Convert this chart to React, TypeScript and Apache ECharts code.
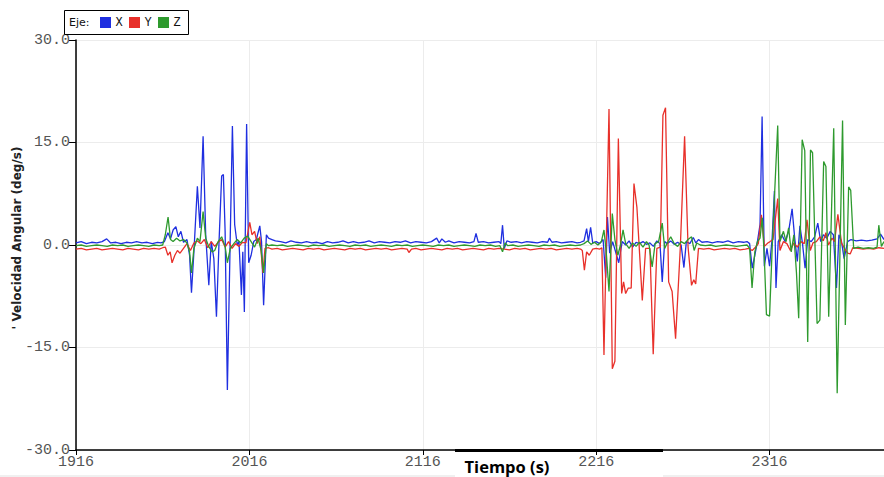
import React, { useEffect, useRef } from "react";
import * as echarts from "echarts";

const T0 = 1916;
const T_END = 2382;
const yTicks = [-30, -15, 0, 15, 30];
const seriesNames = ["X", "Y", "Z"];
const seriesColors = ["#1f2fe0", "#e8302a", "#2e9a2e"];
const legendTitle = "Eje:";
const xTitle = "Tiempo (s)";
const yTitle = "' Velocidad Angular (deg/s)";

// [time (s), angular velocity (deg/s)]
const pointsX: [number, number][] = [
  [1916, 0.3], [1919, 0.5], [1922, 0.2], [1925, 0.4], [1928, 0.3], [1931, 0.5], [1933.7, 0.9], [1936, 0.3],
  [1939, 0.4], [1942, 0.2], [1945, 0.4], [1948, 0.3], [1951, 0.5], [1954, 0.3], [1957, 0.4], [1960, 0.2],
  [1963, 0.4], [1965, 0.3],
  [1967, 0.5], [1969, 1.8], [1970.5, 0.9], [1972, 2.2], [1973.6, 2.7], [1975, 1.2], [1976.5, 2.0], [1978, 0.4],
  [1980, 0.8], [1981.5, -1.5], [1982.6, -7.0], [1984, -1.0], [1986, 8.6], [1987.5, 2.5], [1989.3, 15.9],
  [1990.8, 1.5], [1992.6, -5.9], [1994, 0.5], [1995.5, -2.0], [1997, -10.5], [1998.5, 0.5], [2000, 10.1],
  [2001, 10.3], [2002, 2.0], [2003.3, -21.2], [2004.8, -1.0], [2006.2, 17.4], [2007.5, 3.0], [2009, 0.0],
  [2010, 0.5], [2011.4, -7.3], [2012.2, -1.0], [2013.1, -9.8], [2014.4, 17.7], [2015.6, -2.6], [2017, -1.5],
  [2018.5, 0.5], [2020, 0.8], [2022, 2.8], [2023, 0.5], [2024.2, -8.8], [2025.8, 1.5], [2027, 1.0], [2029, 0.8],
  [2031, 0.6],
  [2034, 0.5], [2037, 0.3], [2040, 0.6], [2043, 0.4], [2046, 0.3], [2049, 0.5], [2052, 0.3], [2055, 0.4],
  [2058, 0.2], [2061, 0.5], [2064, 0.3], [2067, 0.4], [2070, 0.6], [2073, 0.3], [2076, 0.5], [2079, 0.3],
  [2082, 0.4], [2085, 0.6], [2088, 0.3], [2091, 0.5], [2094, 0.4], [2097, 0.3], [2100, 0.5], [2103, 0.4],
  [2106, 0.6], [2109, 0.3], [2112, 0.5], [2115, 0.4], [2118, 0.3], [2121, 0.5], [2124, 1.0], [2125.5, 0.3],
  [2127, 0.9], [2129, 0.4], [2131, 0.6], [2134, 0.3], [2137, 0.5], [2140, 0.4], [2143, 0.3], [2145.5, 0.5],
  [2146.7, 1.7], [2148, 0.4], [2151, 0.5], [2154, 0.3], [2157, 0.4], [2160, 0.5], [2161, 0.2], [2162, 2.9],
  [2163, -0.5], [2164.5, 0.6], [2167, 0.4], [2170, 0.5], [2173, 0.3], [2176, 0.5], [2179, 0.4], [2182, 0.3],
  [2185, 0.5], [2188, 0.4], [2189, 1.0], [2190.5, 0.4], [2193, 0.5], [2196, 0.3], [2199, 0.4], [2202, 0.5],
  [2205, 0.3], [2207, 0.4],
  [2209, 0.6], [2210.5, 2.4], [2211.5, 0.5], [2212.8, 2.6], [2214, 0.3], [2216, 0.5], [2218, 0.2], [2220, 0.8],
  [2221.5, -4.8], [2222.5, 4.1], [2223.8, -1.2], [2225.5, 0.5], [2227, -0.8], [2229, -2.6], [2231, 0.5],
  [2233, 0.0], [2235, 0.6], [2237, -0.3], [2239, 0.4], [2241, 0.2], [2243, 0.5], [2245, 0.1], [2247, 0.3],
  [2249, -0.2], [2251, 0.6], [2252.8, 0.2], [2254.1, -5.4], [2255.5, 0.5], [2257, 0.2], [2259, 0.6],
  [2261, 0.1], [2263, 0.4], [2265, 0.0], [2266.6, -3.3], [2268, 0.5], [2270, 0.2], [2272, 1.1], [2273.5, 0.3],
  [2275, 0.8], [2277, 0.4],
  [2280, 0.5], [2283, 0.3], [2286, 0.5], [2289, 0.4], [2292, 0.6], [2295, 0.3], [2298, 0.5], [2301, 0.4],
  [2303, 0.5],
  [2304.5, 0.2], [2306, -3.4], [2307.5, -1.5], [2309, 0.5], [2310.5, 3.0], [2311.7, 18.8], [2313, -3.1],
  [2314.5, -0.5], [2316, -3.1], [2317.5, 1.0], [2318.8, 7.9], [2319.7, -6.3], [2321, 0.5], [2323, 1.5],
  [2325, 0.5], [2327, 2.0], [2329, 5.3], [2330.5, 1.0], [2332, -2.4], [2333.5, 2.8], [2335, 0.2],
  [2336.5, -3.4], [2338, 0.8], [2340, 0.5], [2342, 1.2], [2343.8, 3.2], [2345.5, 0.5], [2347, 1.5],
  [2349, 1.0], [2351, 2.0], [2352.8, 1.5], [2354.6, -6.3], [2356, 1.5], [2357.5, 0.5], [2359, -2.0],
  [2361, 0.5], [2363, 0.8], [2366, 0.6], [2369, 0.7], [2372, 0.6], [2375, 0.7], [2378, 0.9], [2380, 1.6],
  [2382, 0.8],
];

const pointsY: [number, number][] = [
  [1916, -0.6], [1919, -0.5], [1922, -0.7], [1925, -0.6], [1928, -0.5], [1931, -0.7], [1934, -0.6], [1937, -0.5],
  [1940, -0.6], [1943, -0.7], [1946, -0.5], [1949, -0.6], [1952, -0.7], [1955, -0.5], [1958, -0.6], [1961, -0.5],
  [1964, -0.6], [1966, -0.4],
  [1967.5, -0.3], [1969, -1.5], [1970.3, -1.0], [1971.4, -2.6], [1973, -1.5], [1974.5, -0.8], [1976, -1.2],
  [1978, -0.5], [1980, 0.2], [1982, -0.8], [1984, 0.3], [1986, 0.6], [1988, 0.2], [1990, 0.8], [1992, -0.4],
  [1994, 0.5], [1996, -0.2], [1998, 0.4], [2000, 0.8], [2002, -0.3], [2004, 0.5], [2006, -0.5], [2008, 0.2],
  [2010, -0.2], [2012, 0.4], [2014, 0.3], [2016.2, 3.3], [2017.5, 1.5], [2019, 2.0], [2020.5, 0.2],
  [2022, 1.2], [2023.8, -4.1], [2025, -0.5], [2027, -0.4], [2029, -0.6],
  [2032, -0.5], [2035, -0.7], [2038, -0.6], [2041, -0.5], [2044, -0.6], [2047, -0.7], [2050, -0.5], [2053, -0.6],
  [2056, -0.5], [2059, -0.7], [2062, -0.6], [2065, -0.5], [2068, -0.6], [2071, -0.7], [2074, -0.5], [2077, -0.6],
  [2080, -0.5], [2083, -0.7], [2086, -0.6], [2089, -0.5], [2092, -0.6], [2095, -0.5], [2098, -0.7], [2101, -0.6],
  [2104, -0.5], [2107, -0.6], [2108, -1.1], [2109.5, -0.6], [2112, -0.5], [2115, -0.7], [2118, -0.6],
  [2121, -0.5], [2124, -0.6], [2127, -0.7], [2130, -0.5], [2133, -0.6], [2136, -0.5], [2139, -0.7],
  [2142, -0.6], [2145, -0.5], [2148, -0.6], [2151, -0.7], [2154, -0.5], [2157, -0.6], [2160, -0.5],
  [2163, -0.6], [2166, -0.7], [2169, -0.5], [2172, -0.6], [2175, -0.5], [2178, -0.7], [2181, -0.6],
  [2184, -0.5], [2187, -0.6], [2190, -0.5], [2193, -0.7], [2196, -0.6], [2199, -0.5], [2202, -0.6],
  [2205, -0.5], [2207, -0.6],
  [2208, -0.8], [2209.2, -3.7], [2210.5, -1.0], [2212, -1.5], [2214, -0.6], [2216, -0.5], [2218, -0.6],
  [2219.3, -0.4], [2220.5, -16.1], [2223.4, 19.9], [2225.3, -18.1], [2226.8, -17.0], [2228.8, 15.6],
  [2230.7, -7.1], [2231.8, -5.4], [2233, -7.1], [2234.5, -6.3], [2236.2, -6.3], [2237.8, 9.0], [2239.5, 5.5],
  [2242.6, -8.1], [2244.5, -0.5], [2247, -0.5], [2248.9, -16.0], [2251, -0.5], [2253, -0.3], [2254.5, 19.0],
  [2256, 20.1], [2257.8, -5.4], [2259.8, -6.8], [2261.8, -13.7], [2264.5, -0.5], [2267, 15.9], [2269, -0.3],
  [2271, -5.9], [2272.3, -5.1], [2273.4, -5.7], [2275, -0.5], [2278, -0.6],
  [2281, -0.5], [2284, -0.7], [2287, -0.6], [2290, -0.5], [2293, -0.6], [2296, -0.5], [2299, -0.7], [2302, -0.6],
  [2304, -0.5], [2306, -0.8], [2308, -0.3], [2309.5, 0.2], [2311.3, 4.4], [2313, -0.2], [2315, 0.3],
  [2316.3, 0.5], [2318, 0.8], [2320.7, 6.8], [2322, -0.8], [2324, 0.5], [2326, 0.2], [2328, -0.8], [2330, 0.3],
  [2332, -0.3], [2334, 0.5], [2336, 0.2], [2337.6, 3.7], [2339.5, -0.8], [2341, 0.3], [2343, 0.5], [2345, 1.2],
  [2347, 0.6], [2348.5, 1.8], [2350, 0.0], [2352, 1.0], [2353.5, 0.5], [2355.4, 4.5], [2357.5, 0.3],
  [2359.5, -0.6], [2361, -1.2], [2362.5, -1.3], [2364, -0.4], [2367, -0.5], [2370, -0.6], [2373, -0.5],
  [2376, -0.6], [2379, -0.4], [2382, -0.5],
];

const pointsZ: [number, number][] = [
  [1916, -0.1], [1919, 0.0], [1922, -0.2], [1925, -0.1], [1928, 0.0], [1931, -0.1], [1934, -0.2], [1937, 0.0],
  [1940, -0.1], [1943, 0.0], [1946, -0.2], [1949, -0.1], [1952, 0.0], [1955, -0.1], [1958, -0.2], [1961, 0.0],
  [1964, -0.1], [1966, 0.0],
  [1967.5, 1.5], [1969.1, 4.1], [1970.5, 0.8], [1972, 0.5], [1974, 1.0], [1976, 0.6], [1978, 0.8], [1980, 0.3],
  [1981.5, -1.0], [1982.6, -4.1], [1984, -0.5], [1986, 1.0], [1987.5, 0.5], [1989.3, 4.9], [1990.8, 1.0],
  [1992.5, -0.2], [1994.5, -1.0], [1996, -0.8], [1998, 0.5], [2000, 1.2], [2002, -0.2], [2003.3, -2.6],
  [2005, -0.5], [2007, 0.2], [2009, 0.8], [2011, 0.3], [2013, 1.0], [2015, 1.3], [2017, 0.5], [2019, -0.3],
  [2021, 1.0], [2022.8, -0.8], [2024.2, -4.1], [2025.8, 0.2], [2027, -0.1], [2029, 0.0],
  [2032, -0.1], [2035, 0.0], [2038, -0.2], [2041, -0.1], [2044, 0.0], [2047, -0.1], [2050, -0.2], [2053, 0.0],
  [2056, -0.1], [2059, 0.0], [2062, -0.2], [2065, -0.1], [2068, 0.0], [2071, -0.1], [2074, -0.2], [2077, 0.0],
  [2080, -0.1], [2083, 0.0], [2086, -0.2], [2089, -0.1], [2092, 0.0], [2095, -0.1], [2098, -0.2], [2101, 0.0],
  [2104, -0.1], [2107, 0.0], [2110, -0.2], [2113, -0.1], [2116, 0.0], [2119, -0.1], [2122, -0.2], [2125, 0.0],
  [2128, -0.1], [2131, 0.0], [2134, -0.2], [2137, -0.1], [2140, 0.0], [2143, -0.1], [2146, -0.2], [2149, 0.0],
  [2152, -0.1], [2155, 0.0], [2158, -0.2], [2160.5, -0.1], [2162, -1.0], [2163.5, 0.3], [2165, -0.1],
  [2168, 0.0], [2171, -0.2], [2174, -0.1], [2177, 0.0], [2180, -0.1], [2183, -0.2], [2186, 0.0], [2189, -0.1],
  [2192, 0.0], [2195, -0.2], [2198, -0.1], [2201, 0.0], [2204, -0.1], [2207, 0.0],
  [2209, 0.2], [2211, 0.6], [2213, 0.1], [2215, 0.4], [2217, 0.0], [2219, 0.5], [2220.5, 2.2], [2221.8, -1.0],
  [2223.4, -6.8], [2225.3, 4.6], [2226.8, 0.8], [2228.5, -1.5], [2230, 0.0], [2231.5, 2.2], [2233, 0.2],
  [2235, -0.5], [2237, 0.3], [2239, -0.2], [2241, 0.4], [2243, -0.3], [2245, 0.5], [2246.5, 0.0],
  [2248.3, -3.2], [2250, 0.2], [2252, 0.5], [2254.1, 3.2], [2255.5, -0.5], [2257, 0.3], [2259, 1.2],
  [2261, 0.2], [2263, -0.2], [2265, 0.5], [2267, 0.2], [2269, 0.8], [2271, 1.2], [2272.5, -0.8], [2274, 0.3],
  [2276, 0.0],
  [2279, -0.1], [2282, 0.0], [2285, -0.2], [2288, -0.1], [2291, 0.0], [2294, -0.1], [2297, -0.2], [2300, -0.1],
  [2303, 0.0],
  [2304.5, -0.5], [2305.9, -6.3], [2307.5, -1.0], [2309, 0.5], [2310.5, 1.0], [2311.8, 4.0], [2313, -2.0],
  [2314.2, -10.2], [2316, -10.4], [2317.5, -0.5], [2319, 8.0], [2320.7, 17.5], [2322, 0.5], [2324, 2.0],
  [2325.5, 0.5], [2327, 2.5], [2328.5, -1.0], [2330, 1.5], [2331.5, -4.0], [2332.8, -10.7], [2334.8, 15.4],
  [2336.3, 13.8], [2338, -14.2], [2339.6, 13.9], [2340.8, 13.5], [2343.4, -11.5], [2345, -11.0],
  [2347.2, 12.2], [2348.5, 11.5], [2350.1, -10.5], [2353, 17.1], [2355, -21.7], [2358.1, 18.2],
  [2359.7, -11.7], [2361.6, 8.5], [2362.8, 8.0], [2364.5, -0.5], [2367, -0.3], [2370, -0.5], [2373, -0.4],
  [2376, -0.5], [2378, -0.3], [2379, 2.9], [2380.5, -0.2], [2382, 0.5],
];

const allPoints = [pointsX, pointsY, pointsZ];

export default function App() {
  const ref = useRef<HTMLDivElement>(null);
  useEffect(() => {
    if (!ref.current) return;
    const chart = echarts.init(ref.current, null, { renderer: "svg" });
    const monoLabel = { fontFamily: "'Liberation Mono', monospace", fontSize: 15, color: "#555" };
    const legendItems: any[] = [
      { type: "rect", shape: { x: 64.5, y: 10.5, width: 124, height: 24 }, style: { fill: "#fff", stroke: "#000", lineWidth: 1 }, z: 100 },
      { type: "text", x: 69, y: 22.5, style: { text: legendTitle, fontFamily: "'DejaVu Sans', sans-serif", fontSize: 11, fill: "#111", verticalAlign: "middle" }, z: 101 },
    ];
    const squareX = [100, 129, 158];
    seriesNames.forEach((n, i) => {
      legendItems.push({ type: "rect", shape: { x: squareX[i], y: 17, width: 11, height: 11 }, style: { fill: seriesColors[i] }, z: 101 });
      legendItems.push({ type: "text", x: squareX[i] + 19, y: 22.5, style: { text: n, fontFamily: "'Liberation Mono', 'Courier New', monospace", fontSize: 12, fill: "#111", align: "center", verticalAlign: "middle" }, z: 101 });
    });
    chart.setOption({
      animation: false,
      backgroundColor: "#fff",
      grid: { left: 76, right: 0, top: 40, bottom: 27, containLabel: false },
      xAxis: {
        type: "value",
        min: 0,
        max: T_END - T0,
        interval: 100,
        axisLine: { onZero: false, lineStyle: { color: "#000", width: 1.5 } },
        axisTick: { show: true, length: 5, lineStyle: { color: "#000" } },
        axisLabel: { ...monoLabel, margin: 5, showMaxLabel: false, formatter: (v: number) => String(v + T0) },
        splitLine: { show: true, lineStyle: { color: "#ececec", width: 1 } },
      },
      yAxis: {
        type: "value",
        min: yTicks[0],
        max: yTicks[yTicks.length - 1],
        interval: 15,
        axisLine: { show: true, onZero: false, lineStyle: { color: "#000", width: 1.5 } },
        axisTick: { show: true, length: 7, lineStyle: { color: "#000" } },
        axisLabel: { ...monoLabel, margin: 6, formatter: (v: number) => v.toFixed(1) },
        splitLine: { show: true, lineStyle: { color: "#ececec", width: 1 } },
      },
      series: allPoints.map((pts, i) => ({
        name: seriesNames[i],
        type: "line",
        data: pts.map(([t, v]) => [t - T0, v]),
        showSymbol: false,
        symbol: "none",
        clip: true,
        lineStyle: { color: seriesColors[i], width: 1.3 },
        itemStyle: { color: seriesColors[i] },
      })),
      graphic: [
        { type: "rect", shape: { x: 0, y: 475, width: 455, height: 2 }, style: { fill: "#f0f0f0" }, z: 90 },
        { type: "rect", shape: { x: 663, y: 475, width: 221, height: 2 }, style: { fill: "#f0f0f0" }, z: 90 },
        { type: "rect", shape: { x: 455, y: 449, width: 208, height: 3 }, style: { fill: "#000" }, z: 92 },
        { type: "text", x: 507, y: 466, style: { text: xTitle, fontFamily: "'Open Sans', sans-serif", fontWeight: "bold", fontSize: 16.5, fill: "#000", align: "center", verticalAlign: "middle" }, z: 93 },
        { type: "text", x: 17, y: 238, rotation: Math.PI / 2, style: { text: yTitle, fontFamily: "'DejaVu Sans', sans-serif", fontWeight: "bold", fontSize: 12, fill: "#222", align: "center", verticalAlign: "middle" }, z: 93 },
        ...legendItems,
      ],
    });
    return () => chart.dispose();
  }, []);
  return <div ref={ref} style={{ position: "absolute", left: 0, top: 0, width: 884, height: 477 }} />;
}
